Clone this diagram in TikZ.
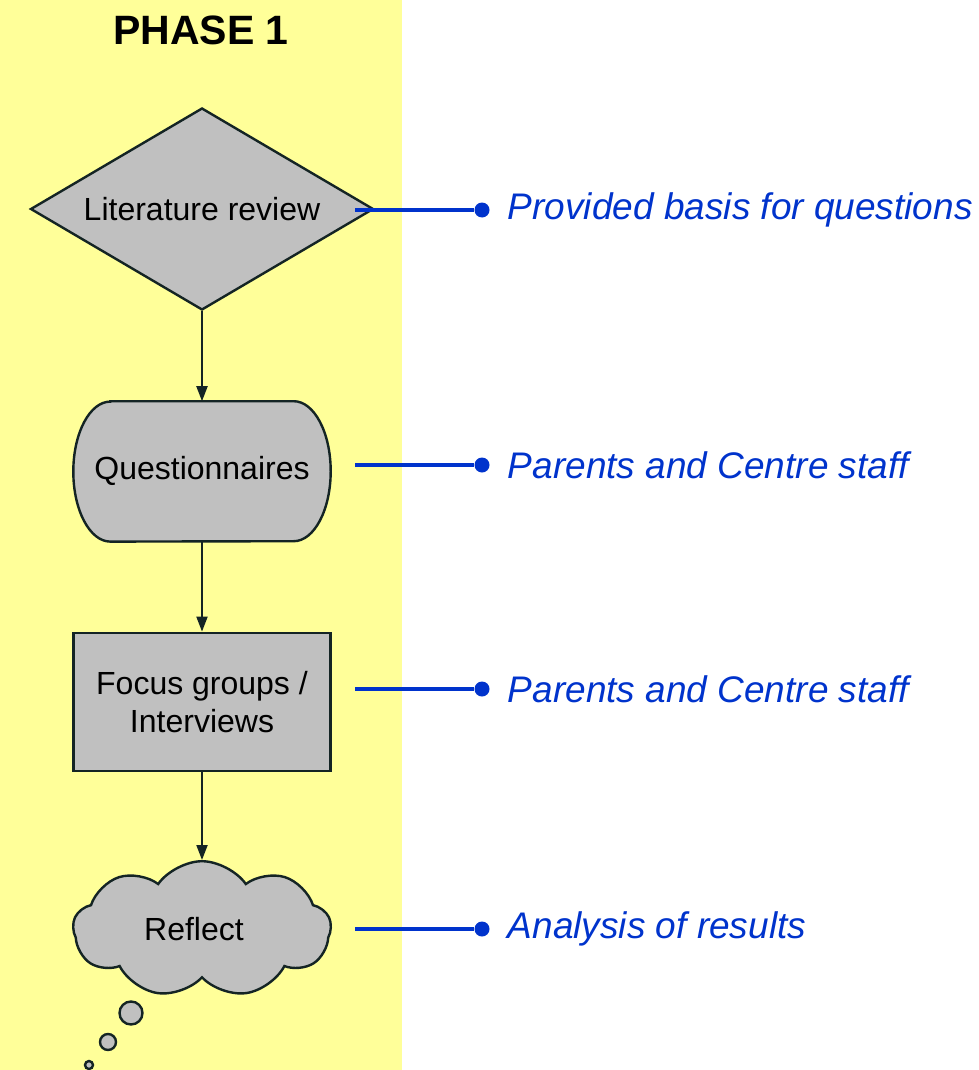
\documentclass[tikz,border=0pt]{standalone}
\usepackage{fontspec}
\setmainfont{Liberation Sans}
\usetikzlibrary{positioning,shapes.geometric,shapes.symbols,arrows.meta,backgrounds}
\definecolor{bandyellow}{HTML}{FFFF99}
\definecolor{boxgray}{HTML}{C0C0C0}
\definecolor{noteblue}{HTML}{0033CC}
\definecolor{edgedark}{HTML}{142424}

\begin{document}
\begin{tikzpicture}[x=1pt,y=1pt,
        outline/.style = {draw=edgedark, line width=2.4pt, fill=boxgray},
        box/.style = {outline, font=\fontsize{32}{38}\selectfont, align=center},
        decision/.style = {box, diamond, aspect=1.7, inner sep=2pt, minimum width=343pt, minimum height=202pt},
        terminal/.style = {font=\fontsize{32}{38}\selectfont, rectangle, minimum width=257pt, minimum height=140pt},
        process/.style = {box, rectangle, minimum width=257pt, minimum height=138pt},
        thought/.style = {box, cloud, cloud puffs=9, cloud puff arc=110, aspect=1.9, minimum width=258pt, minimum height=136pt},
        bubble/.style = {outline, circle, inner sep=0pt},
        flow/.style = {-{Triangle[width=11pt,length=15pt]}, line width=2pt, draw=edgedark},
        link/.style = {draw=noteblue, line width=3.4pt},
        pindot/.style = {circle, fill=noteblue, inner sep=0pt, minimum size=15pt},
        note/.style = {text=noteblue, font=\fontsize{37}{44}\selectfont\itshape, inner sep=0pt},
        node distance=90pt]
        \useasboundingbox (0,0) rectangle (978,-1070);
        \node[font=\fontsize{41}{48}\selectfont\bfseries] (title) at (201,-30) {PHASE 1};
        % flow chart
        \node[decision] (lit) at (202,-209) {Literature review};
        \node[terminal] (quest) [below=of lit] {Questionnaires};
        \node[process] (focus) [below=of quest] {Focus groups /\\Interviews};
        \node[thought] (reflect) [below=88pt of focus] {Reflect\hspace*{16pt}};
        \node[bubble, minimum size=23pt] (b1) at (131,-1013) {};
        \node[bubble, minimum size=16pt] (b2) at (108,-1042) {};
        \node[bubble, minimum size=8pt] (b3) at (89,-1065) {};
        \begin{scope}[on background layer]
        \fill[bandyellow] (0,0) rectangle (402,-1070);
        \draw[outline] ([xshift=37pt]quest.north west) -- ([xshift=-37pt]quest.north east)
            arc[start angle=90, end angle=-90, x radius=37pt, y radius=70pt]
            -- ([xshift=37pt]quest.south west)
            arc[start angle=270, end angle=90, x radius=37pt, y radius=70pt] -- cycle;
        \end{scope}
        \draw[flow] (lit.south) -- (quest.north);
        \draw[flow] (quest.south) -- (focus.north);
        \draw[flow] (focus.south) -- (reflect.north);
        % notes
        \coordinate (litend) at (355,-210);
        \node[pindot] (litdot) at (482,-210) {};
        \node[note, right=18pt of litdot] (litnote) {Provided basis for questions};
        \draw[link] (litend) -- (litdot);
        \coordinate (questend) at (355,-465);
        \node[pindot] (questdot) at (482,-465) {};
        \node[note, right=18pt of questdot] (questnote) {Parents and Centre staff};
        \draw[link] (questend) -- (questdot);
        \coordinate (focusend) at (355,-689);
        \node[pindot] (focusdot) at (482,-689) {};
        \node[note, right=18pt of focusdot] (focusnote) {Parents and Centre staff};
        \draw[link] (focusend) -- (focusdot);
        \coordinate (reflectend) at (355,-929);
        \node[pindot] (reflectdot) at (482,-929) {};
        \node[note, right=18pt of reflectdot] (reflectnote) {Analysis of results};
        \draw[link] (reflectend) -- (reflectdot);
\end{tikzpicture}
\end{document}
